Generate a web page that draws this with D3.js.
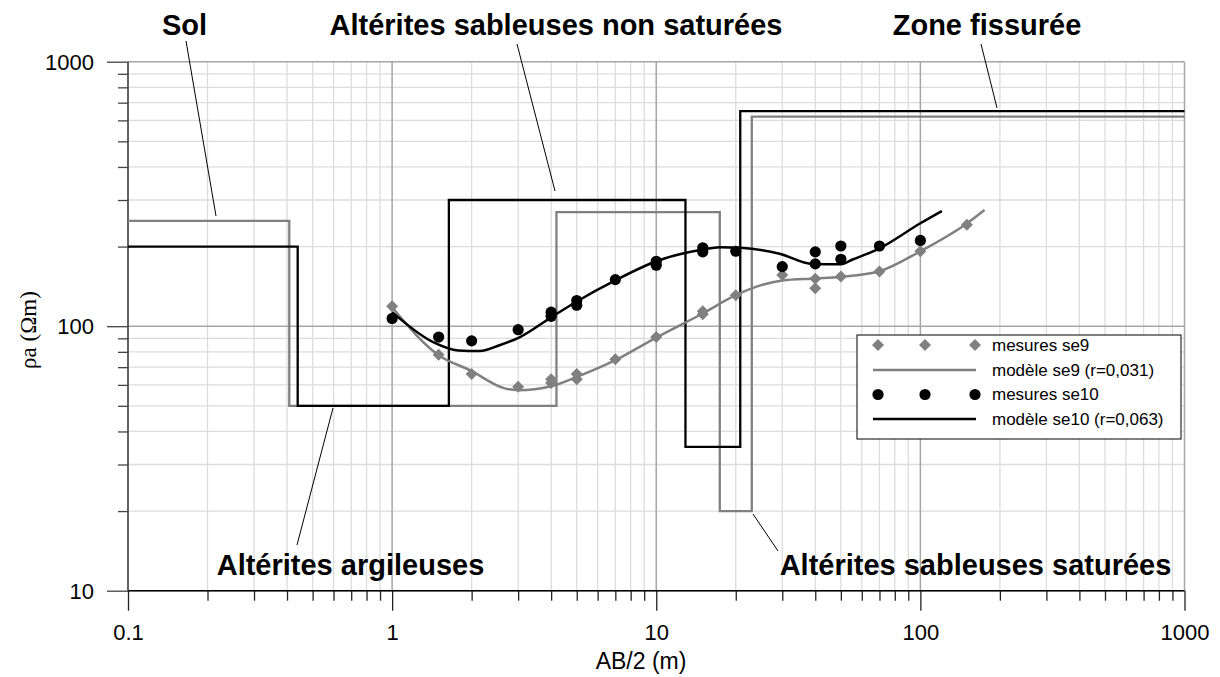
<!DOCTYPE html>
<html>
<head>
<meta charset="utf-8">
<script src="https://cdn.jsdelivr.net/npm/d3@7"></script>
<style>
  body { margin: 0; background: #fff; }
  svg { display: block; }
</style>
</head>
<body>
<svg id="chart" width="1220" height="677"></svg>
<script>
// ---- Data ----------------------------------------------------------------
const xMajor = [0.1, 1, 10, 100, 1000];
const xMajorLabels = ["0.1", "1", "10", "100", "1000"];
const yMajor = [10, 100, 1000];
const yMajorLabels = ["10", "100", "1000"];

// Apparent resistivity soundings (AB/2 in m, rho_a in ohm.m)
const se9Ab  = [1, 1.5, 2, 3, 4, 4, 5, 5, 7, 10, 15, 15, 20, 30, 40, 40, 50, 70, 100, 150];
const se9Rho = [119, 78, 66, 59, 61, 63, 63, 66, 75, 91, 111, 114, 131, 156, 151, 139, 154, 161, 192, 242];

const se10Ab  = [1, 1.5, 2, 3, 4, 4, 5, 5, 7, 10, 10, 15, 15, 20, 30, 40, 40, 50, 50, 70, 100];
const se10Rho = [107, 91, 88, 97, 109, 113, 120, 125, 150, 170, 176, 191, 198, 192, 168, 191, 172, 201, 179, 201, 211];

// Model response curves
const fit9Ab  = [1, 1.5, 1.97, 2.67, 3, 4, 5, 7, 10, 15, 20, 30, 40, 50, 70, 100, 150, 175];
const fit9Rho = [118, 77.7, 68.2, 58.2, 57.3, 59.3, 64.3, 74.4, 90.6, 111.7, 131, 149, 151.5, 153.6, 161.3, 192, 244.6, 275];

const fit10Ab  = [1, 1.43, 1.78, 2.15, 2.55, 3.05, 4, 5, 7, 10, 15, 17.4, 20.8, 29.3, 39, 50, 55.4, 70, 100, 120.6];
const fit10Rho = [113, 87, 81, 80.6, 84.7, 91, 108, 124, 149, 176, 195, 199, 198, 188, 172, 171.5, 178.7, 197, 245, 272.6];

// Layered models: layer top (as AB/2) and resistivity
const layers9Top  = [0.1, 0.408, 4.19, 17.4, 23.0];
const layers9Rho  = [250, 50, 270, 20, 620];
const layers10Top = [0.1, 0.439, 1.64, 12.9, 20.8];
const layers10Rho = [200, 50, 300, 35, 650];

const legendLabels = ["mesures se9", "modèle se9 (r=0,031)", "mesures se10", "modèle se10 (r=0,063)"];

// ---- Layout --------------------------------------------------------------
const svg = d3.select("#chart");
const plot = { left: 128, right: 1184.5, top: 61.7, bottom: 590.7 };
const GREY = "#808080";
const sans = "'Liberation Sans', Arial, sans-serif";

const x = d3.scaleLog().domain([0.1, 1000]).range([plot.left, plot.right]);
const y = d3.scaleLog().domain([10, 1000]).range([plot.bottom, plot.top]);

const isMajor = v => Math.abs(Math.log10(v) - Math.round(Math.log10(v))) < 1e-9;
const xAll = x.ticks();
const yAll = y.ticks();

svg.append("rect").attr("width", 1220).attr("height", 677).attr("fill", "#fff");

// ---- Grid ----------------------------------------------------------------
const grid = svg.append("g");
grid.selectAll("line.gx").data(xAll.filter(v => !isMajor(v))).join("line")
  .attr("x1", d => x(d)).attr("x2", d => x(d))
  .attr("y1", plot.top).attr("y2", plot.bottom)
  .attr("stroke", "#dcdcdc").attr("stroke-width", 1.3);
grid.selectAll("line.gy").data(yAll.filter(v => !isMajor(v))).join("line")
  .attr("y1", d => y(d)).attr("y2", d => y(d))
  .attr("x1", plot.left).attr("x2", plot.right)
  .attr("stroke", "#dcdcdc").attr("stroke-width", 1.3);
grid.selectAll("line.mx").data(xMajor).join("line")
  .attr("x1", d => x(d)).attr("x2", d => x(d))
  .attr("y1", plot.top).attr("y2", plot.bottom)
  .attr("stroke", "#a6a6a6").attr("stroke-width", 1.5);
grid.selectAll("line.my").data(yMajor).join("line")
  .attr("y1", d => y(d)).attr("y2", d => y(d))
  .attr("x1", plot.left).attr("x2", plot.right)
  .attr("stroke", "#a6a6a6").attr("stroke-width", 1.5);

// ---- Axes ----------------------------------------------------------------
const xAxisMinor = d3.axisBottom(x).tickValues(xAll.filter(v => !isMajor(v))).tickSize(10).tickFormat("");
const xAxisMajor = d3.axisBottom(x).tickValues(xMajor).tickSize(20)
  .tickFormat((d, i) => xMajorLabels[i]).tickPadding(14);
const yAxisMinor = d3.axisLeft(y).tickValues(yAll.filter(v => !isMajor(v))).tickSize(10).tickFormat("");
const yAxisMajor = d3.axisLeft(y).tickValues(yMajor).tickSize(21)
  .tickFormat((d, i) => yMajorLabels[i]).tickPadding(13);

function styleAxis(g, col) {
  g.select(".domain").remove();
  g.selectAll(".tick line").attr("stroke", col).attr("stroke-width", 1.3);
  g.selectAll(".tick text").attr("fill", "#000").attr("font-family", sans).attr("font-size", 22);
}
const gx1 = svg.append("g").attr("transform", `translate(0,${plot.bottom})`).call(xAxisMinor);
const gx2 = svg.append("g").attr("transform", `translate(0,${plot.bottom})`).call(xAxisMajor);
const gy1 = svg.append("g").attr("transform", `translate(${plot.left},0)`).call(yAxisMinor);
const gy2 = svg.append("g").attr("transform", `translate(${plot.left},0)`).call(yAxisMajor);
[gx1, gx2].forEach(g => styleAxis(g, "#222"));
[gy1, gy2].forEach(g => styleAxis(g, "#444"));
gx2.selectAll(".tick text").attr("dy", "0.71em");
gy2.selectAll(".tick text").attr("dy", "0.35em");

svg.append("line").attr("x1", plot.left).attr("x2", plot.right)
  .attr("y1", plot.bottom).attr("y2", plot.bottom).attr("stroke", "#000").attr("stroke-width", 1.5);
svg.append("line").attr("x1", plot.left).attr("x2", plot.left)
  .attr("y1", plot.top).attr("y2", plot.bottom).attr("stroke", "#444").attr("stroke-width", 1.5);

// Axis titles
svg.append("text").attr("x", 641).attr("y", 669).attr("text-anchor", "middle")
  .attr("font-family", sans).attr("font-size", 23).text("AB/2 (m)");
svg.append("text").attr("transform", "translate(36,330) rotate(-90)").attr("text-anchor", "middle")
  .attr("font-family", "'Liberation Serif', 'Times New Roman', serif").attr("font-size", 23)
  .text("ρa (Ωm)");

// ---- Marks -----------------------------------------------------------------
svg.append("clipPath").attr("id", "clip").append("rect")
  .attr("x", plot.left).attr("y", plot.top - 2)
  .attr("width", plot.right - plot.left + 1).attr("height", plot.bottom - plot.top + 2);
const marks = svg.append("g").attr("clip-path", "url(#clip)");

// Layered models as steps
function layerPoints(tops, rhos) {
  const pts = tops.map((t, i) => [t, rhos[i]]);
  pts.push([1000, rhos[rhos.length - 1]]);
  return pts;
}
const stepLine = d3.line().x(d => x(d[0])).y(d => y(d[1])).curve(d3.curveStepAfter);
marks.append("path").attr("d", stepLine(layerPoints(layers9Top, layers9Rho)))
  .attr("fill", "none").attr("stroke", GREY).attr("stroke-width", 2.3);
marks.append("path").attr("d", stepLine(layerPoints(layers10Top, layers10Rho)))
  .attr("fill", "none").attr("stroke", "#000").attr("stroke-width", 2.3);

// Model response curves
const curveLine = d3.line().x(d => x(d[0])).y(d => y(d[1])).curve(d3.curveMonotoneX);
marks.append("path").attr("d", curveLine(fit9Ab.map((a, i) => [a, fit9Rho[i]])))
  .attr("fill", "none").attr("stroke", GREY).attr("stroke-width", 2.5);
marks.append("path").attr("d", curveLine(fit10Ab.map((a, i) => [a, fit10Rho[i]])))
  .attr("fill", "none").attr("stroke", "#000").attr("stroke-width", 2.5);

// Measurements
const diamond = "M0,-6L6,0L0,6L-6,0Z";
marks.selectAll("path.se9").data(se9Ab.map((a, i) => [a, se9Rho[i]])).join("path")
  .attr("class", "se9").attr("d", diamond)
  .attr("transform", d => `translate(${x(d[0])},${y(d[1])})`)
  .attr("fill", GREY);
marks.selectAll("circle.se10").data(se10Ab.map((a, i) => [a, se10Rho[i]])).join("circle")
  .attr("class", "se10").attr("r", 5.6)
  .attr("cx", d => x(d[0])).attr("cy", d => y(d[1]))
  .attr("fill", "#000");

// ---- Legend ----------------------------------------------------------------
const lg = svg.append("g");
lg.append("rect").attr("x", 857).attr("y", 335).attr("width", 324).attr("height", 104)
  .attr("fill", "#fff").attr("stroke", "#000").attr("stroke-width", 1);
const rowY = [345, 370, 394.5, 419];
const symX = [878, 925, 975];
symX.forEach(sx => {
  lg.append("path").attr("d", diamond).attr("transform", `translate(${sx},${rowY[0]})`).attr("fill", GREY);
  lg.append("circle").attr("cx", sx).attr("cy", rowY[2]).attr("r", 5.6).attr("fill", "#000");
});
lg.append("line").attr("x1", 873).attr("x2", 976).attr("y1", rowY[1]).attr("y2", rowY[1])
  .attr("stroke", GREY).attr("stroke-width", 2.5);
lg.append("line").attr("x1", 873).attr("x2", 976).attr("y1", rowY[3]).attr("y2", rowY[3])
  .attr("stroke", "#000").attr("stroke-width", 2.5);
legendLabels.forEach((t, i) => {
  lg.append("text").attr("x", 992).attr("y", rowY[i]).attr("dy", "0.35em")
    .attr("font-family", sans).attr("font-size", 17).text(t);
});

// ---- Layer annotations -----------------------------------------------------
const notes = [
  { text: "Sol", x: 184.5, y: 35, from: [186, 41], to: [216, 216] },
  { text: "Altérites sableuses non saturées", x: 556, y: 35, from: [517, 44], to: [555, 191] },
  { text: "Zone fissurée", x: 987, y: 35, from: [981, 44], to: [997, 108] },
  { text: "Altérites argileuses", x: 350.5, y: 575, from: [297, 545], to: [333, 408] },
  { text: "Altérites sableuses saturées", x: 975.5, y: 575, from: [778, 551], to: [753, 514] }
];
const ann = svg.append("g");
ann.selectAll("line").data(notes).join("line")
  .attr("x1", d => d.from[0]).attr("y1", d => d.from[1])
  .attr("x2", d => d.to[0]).attr("y2", d => d.to[1])
  .attr("stroke", "#000").attr("stroke-width", 1);
ann.selectAll("text").data(notes).join("text")
  .attr("x", d => d.x).attr("y", d => d.y).attr("text-anchor", "middle")
  .attr("font-family", sans).attr("font-weight", "bold").attr("font-size", 29)
  .text(d => d.text);
</script>
</body>
</html>
